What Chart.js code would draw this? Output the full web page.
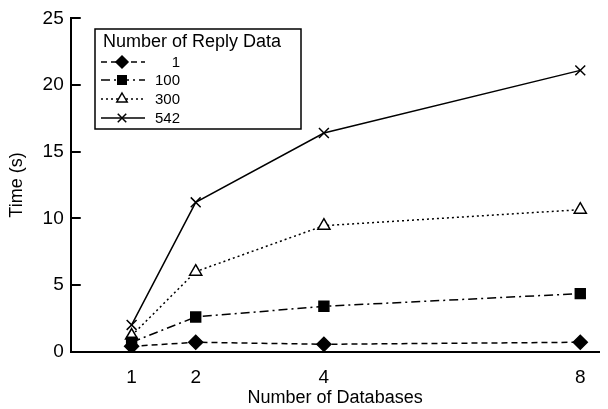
<!DOCTYPE html>
<html>
<head>
<meta charset="utf-8">
<script src="https://cdn.jsdelivr.net/npm/chart.js@4/dist/chart.umd.min.js"></script>
<style>
  body { margin: 0; background: #fff; }
  #chart { display: block; }
</style>
</head>
<body>
<canvas id="chart" width="608" height="409"></canvas>
<script>
'use strict';

// data
const databases = [1, 2, 4, 8];
const xTicks = [1, 2, 4, 8];
const yTicks = [0, 5, 10, 15, 20, 25];
const seriesNames = ['1', '100', '300', '542'];
const reply1 = [0.4, 0.7, 0.55, 0.7];
const reply100 = [0.7, 2.6, 3.4, 4.35];
const reply300 = [1.2, 6.0, 9.45, 10.65];
const reply542 = [2.0, 11.2, 16.4, 21.1];

const FONT = '"Liberation Sans", Arial, Helvetica, sans-serif';
let canvasElem = document.getElementById('chart');

function toPoints(values) {
    return values.map((v, i) => ({ x: databases[i], y: v }));
}

function makeDataset(label, values, dash, pointStyle, radius, filled) {
    return {
        label: label,
        data: toPoints(values),
        borderColor: '#000',
        borderWidth: 1.5,
        borderDash: dash,
        pointStyle: pointStyle,
        pointRadius: radius,
        pointBorderColor: '#000',
        pointBorderWidth: 1.5,
        pointBackgroundColor: filled ? '#000' : '#fff',
        fill: false,
        tension: 0,
    };
}

// inward tick marks on the y axis
const inwardTicks = {
    id: 'inwardTicks',
    afterDatasetsDraw(chart) {
        const ctx = chart.ctx;
        const y = chart.scales.y;
        const left = chart.chartArea.left;
        ctx.save();
        ctx.strokeStyle = '#000';
        ctx.lineWidth = 2;
        yTicks.forEach(v => {
            const py = Math.round(y.getPixelForValue(v));
            ctx.beginPath();
            ctx.moveTo(left, py);
            ctx.lineTo(left + 10, py);
            ctx.stroke();
        });
        ctx.restore();
    }
};

function drawMarker(ctx, style, x, y, r, filled) {
    ctx.beginPath();
    if (style === 'rectRot') {
        ctx.moveTo(x, y - r); ctx.lineTo(x + r, y); ctx.lineTo(x, y + r); ctx.lineTo(x - r, y);
        ctx.closePath();
    } else if (style === 'rect') {
        const s = r * Math.SQRT1_2;
        ctx.rect(x - s, y - s, 2 * s, 2 * s);
    } else if (style === 'triangle') {
        ctx.moveTo(x, y - r);
        ctx.lineTo(x + r * 0.866, y + r / 2);
        ctx.lineTo(x - r * 0.866, y + r / 2);
        ctx.closePath();
    } else if (style === 'crossRot') {
        const d = r * Math.SQRT1_2;
        ctx.moveTo(x - d, y - d); ctx.lineTo(x + d, y + d);
        ctx.moveTo(x + d, y - d); ctx.lineTo(x - d, y + d);
        ctx.stroke();
        return;
    }
    ctx.fillStyle = filled ? '#000' : '#fff';
    ctx.fill();
    ctx.stroke();
}

// legend box in the upper left of the plot
const boxLegend = {
    id: 'boxLegend',
    afterDraw(chart) {
        const ctx = chart.ctx;
        const bx = 95, by = 29, bw = 206, bh = 100;
        ctx.save();
        ctx.fillStyle = '#fff';
        ctx.fillRect(bx, by, bw, bh);
        ctx.strokeStyle = '#000';
        ctx.lineWidth = 1.5;
        ctx.strokeRect(bx, by, bw, bh);
        ctx.fillStyle = '#000';
        ctx.font = '18px ' + FONT;
        ctx.textBaseline = 'middle';
        ctx.fillText('Number of Reply Data', 103, 42);
        const rows = [62, 80, 99, 118];
        chart.data.datasets.forEach((ds, i) => {
            const ry = rows[i];
            ctx.strokeStyle = '#000';
            ctx.lineWidth = 1.5;
            ctx.setLineDash(ds.borderDash);
            ctx.beginPath();
            ctx.moveTo(101, ry);
            ctx.lineTo(145, ry);
            ctx.stroke();
            ctx.setLineDash([]);
            drawMarker(ctx, ds.pointStyle, 122, ry, 6, ds.pointBackgroundColor === '#000');
            ctx.fillStyle = '#000';
            ctx.font = '15px ' + FONT;
            ctx.textAlign = 'right';
            ctx.fillText(ds.label, 180, ry + 1);
            ctx.textAlign = 'left';
        });
        ctx.restore();
    }
};

function renderChart() {
    const chartConfig = {
        type: 'line',
        data: {
            datasets: [
                makeDataset(seriesNames[0], reply1, [6, 4], 'rectRot', 7, true),
                makeDataset(seriesNames[1], reply100, [9, 4, 2, 4], 'rect', 7, true),
                makeDataset(seriesNames[2], reply300, [2, 3], 'triangle', 7, false),
                makeDataset(seriesNames[3], reply542, [], 'crossRot', 7, false),
            ]
        },
        options: {
            responsive: false,
            animation: false,
            layout: { padding: { top: 18, right: 8, left: 6, bottom: 0 } },
            plugins: {
                legend: { display: false },
                tooltip: { enabled: false },
            },
            scales: {
                x: {
                    type: 'linear',
                    min: 0.05,
                    max: 8.3,
                    afterBuildTicks: axis => { axis.ticks = xTicks.map(v => ({ value: v })); },
                    grid: { display: false, drawTicks: false },
                    border: { display: true, color: '#000', width: 2 },
                    ticks: { color: '#000', font: { family: FONT, size: 19 }, padding: 15, maxRotation: 0 },
                    title: { display: true, text: 'Number of Databases', color: '#000', font: { family: FONT, size: 18 }, padding: { top: -17, bottom: 0 } },
                },
                y: {
                    min: 0,
                    max: 25,
                    afterBuildTicks: axis => { axis.ticks = yTicks.map(v => ({ value: v })); },
                    grid: { display: false, drawTicks: false },
                    border: { display: true, color: '#000', width: 2 },
                    ticks: { color: '#000', font: { family: FONT, size: 19 }, padding: 7 },
                    title: { display: true, text: 'Time (s)', color: '#000', font: { family: FONT, size: 18 }, padding: { top: 0, bottom: 8 } },
                },
            }
        },
        plugins: [inwardTicks, boxLegend],
    };
    new Chart(canvasElem, chartConfig);
}

renderChart();
</script>
</body>
</html>
